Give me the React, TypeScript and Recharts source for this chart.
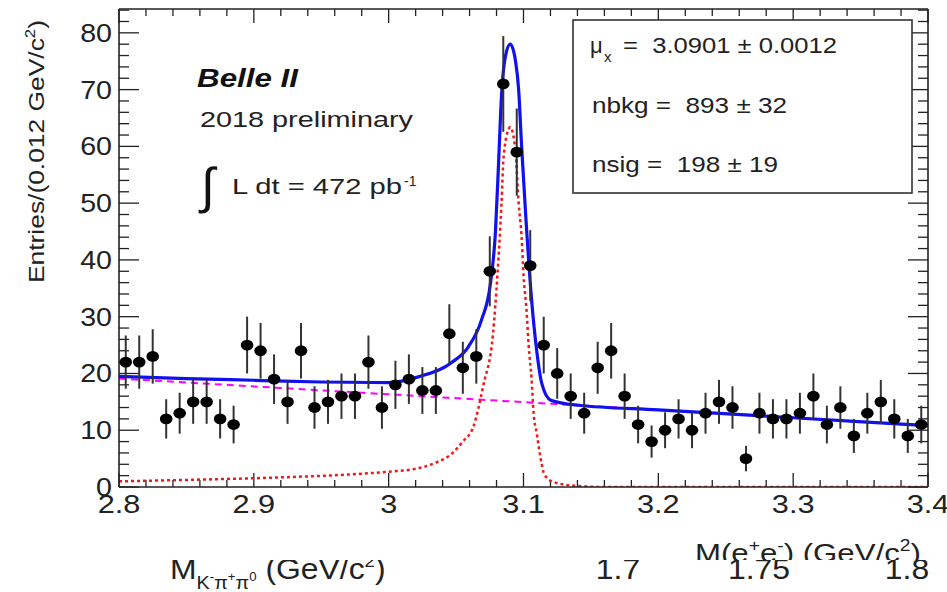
import React from "react";
import { ComposedChart, Line, Scatter, XAxis, YAxis, ErrorBar, ReferenceLine } from "recharts";

// histogram: M(e+e-) bins from 2.80 to 3.40
const binLow = 2.8;
const binWidth = 0.01;
const counts = [
  22, 22, 23, 12, 13, 15, 15, 12, 11, 25,
  24, 19, 15, 24, 14, 15, 16, 16, 22, 14,
  18, 19, 17, 17, 27, 21, 23, 38, 71, 59,
  39, 25, 20, 16, 13, 21, 24, 16, 11, 8,
  10, 12, 10, 13, 15, 14, 5, 13, 12, 12,
  13, 16, 11, 14, 9, 13, 15, 12, 9, 11,
];

// total fit (blue)
const totalX = [2.8, 2.85, 2.9, 2.95, 3.0, 3.022, 3.0465, 3.0591, 3.0688, 3.0755, 3.0792, 3.0815, 3.0837, 3.0867, 3.0902, 3.0941, 3.0964, 3.0986, 3.1016, 3.106, 3.1098, 3.1135, 3.1202, 3.141, 3.2, 3.3, 3.4];
const totalY = [19.5, 19.1, 18.8, 18.5, 18.4, 19.4, 21.9, 24.7, 29.4, 35.9, 45, 57, 69, 76, 78, 75, 70, 60, 48, 33, 24, 18.3, 15.3, 14.4, 13.6, 12.2, 10.8];

// signal component (red dashed)
const sigX = [2.8, 2.86, 2.92, 2.97, 3.0, 3.022, 3.035, 3.0465, 3.055, 3.0628, 3.0703, 3.0774, 3.0807, 3.0837, 3.0852, 3.0889, 3.0902, 3.0941, 3.0964, 3.0986, 3.1001, 3.1023, 3.1038, 3.106, 3.1075, 3.1098, 3.1135, 3.115, 3.1209, 3.1388, 3.16, 3.4];
const sigY = [1.0, 1.3, 1.7, 2.2, 2.7, 3.3, 4.3, 5.8, 8.0, 10.6, 18, 27, 37.5, 50, 58, 63, 63.4, 59, 50, 44, 37, 31, 25, 19, 13, 9.5, 4, 2.5, 1, 0.2, 0, 0];

// background component (magenta dashed)
const bkgX = [2.8, 3.4];
const bkgY = [19.1, 10.8];

const xMajor = [2.8, 2.9, 3.0, 3.1, 3.2, 3.3, 3.4];
const xMinor = [2.82, 2.84, 2.86, 2.88, 2.92, 2.94, 2.96, 2.98, 3.02, 3.04, 3.06, 3.08, 3.12, 3.14, 3.16, 3.18, 3.22, 3.24, 3.26, 3.28, 3.32, 3.34, 3.36, 3.38];
const yMajor = [0, 10, 20, 30, 40, 50, 60, 70, 80];
const yMinor = [2, 4, 6, 8, 12, 14, 16, 18, 22, 24, 26, 28, 32, 34, 36, 38, 42, 44, 46, 48, 52, 54, 56, 58, 62, 64, 66, 68, 72, 74, 76, 78, 82, 84];

const X0 = 2.8, X1 = 3.4, Y0 = 0, Y1 = 84.2;
const xDomain: [number, number] = [X0, X1];
const yDomain: [number, number] = [Y0, Y1];

// tick lengths in axis units (plot is 809 x 478 px)
const TX_MAJ = 14 * (Y1 - Y0) / 478;
const TX_MIN = 7 * (Y1 - Y0) / 478;
const TY_MAJ = 20 * (X1 - X0) / 809;
const TY_MIN = 10 * (X1 - X0) / 809;

const FONT = "'Liberation Sans', Arial, Helvetica, sans-serif";
const INK = "#222";

const points = counts.map((n, i) => ({
  x: binLow + binWidth * (i + 0.5),
  y: n,
  err: Math.sqrt(n),
}));
const toRows = (xs: number[], ys: number[]) => xs.map((x, i) => ({ x, y: ys[i] }));
const totalData = toRows(totalX, totalY);
const sigData = toRows(sigX, sigY);
const bkgData = toRows(bkgX, bkgY);

function XTick(props: any) {
  const { x, y, payload } = props;
  const label = String(Math.round(payload.value * 10) / 10);
  return (
    <text transform={`translate(${x},${y + 26}) scale(1.18,1)`} textAnchor="middle" fontSize={26} fill={INK} fontFamily={FONT}>
      {label}
    </text>
  );
}

function YTick(props: any) {
  const { y, payload } = props;
  return (
    <text transform={`translate(112,${y + 9}) scale(1.1,1)`} textAnchor="end" fontSize={26} fill={INK} fontFamily={FONT}>
      {payload.value}
    </text>
  );
}

const Dot = (p: any) => <ellipse cx={p.cx} cy={p.cy} rx={6.3} ry={5.4} fill="#000" />;

const frame = { stroke: INK, strokeWidth: 1.6 };

function seg(key: string, a: { x: number; y: number }, b: { x: number; y: number }) {
  return <ReferenceLine key={key} segment={[a, b]} stroke={INK} strokeWidth={1.3} ifOverflow="visible" />;
}

function Overlay() {
  return (
    <svg width={947} height={592} style={{ position: "absolute", left: 0, top: 0, pointerEvents: "none" }} fontFamily={FONT}>
      <defs>
        <clipPath id="upClip"><rect x={0} y={0} width={947} height={560} /></clipPath>
        <clipPath id="lowClip"><rect x={0} y={560} width={947} height={32} /></clipPath>
      </defs>

      <text transform="translate(44,20) rotate(-90) scale(1.2,1)" textAnchor="end" fontSize={22} fill={INK}>
        Entries/(0.012 GeV/c<tspan dy={-9} fontSize={14}>2</tspan><tspan dy={9}>)</tspan>
      </text>

      <text x={197} y={87} fontSize={25} fontWeight="bold" fontStyle="italic" fill="#111" textLength={101} lengthAdjust="spacingAndGlyphs">Belle II</text>
      <text x={200} y={127} fontSize={22} fill={INK} textLength={213} lengthAdjust="spacingAndGlyphs">2018 preliminary</text>
      <text x={201} y={203} fontSize={50} fill="#111">∫</text>
      <text x={232} y={194} fontSize={22} fill={INK} textLength={170} lengthAdjust="spacingAndGlyphs">L dt = 472 pb</text>
      <text x={404} y={186} fontSize={14} fill={INK}>-1</text>

      <rect x={573} y={20} width={339} height={173} fill="#fff" stroke="#333" strokeWidth={1.6} />
      <text x={590} y={53} fontSize={22} fill={INK}>μ</text>
      <text x={604} y={62} fontSize={15} fill={INK}>x</text>
      <text x={623} y={53} fontSize={22} fill={INK} textLength={214} lengthAdjust="spacingAndGlyphs" style={{ whiteSpace: "pre" }}>=  3.0901 ± 0.0012</text>
      <text x={592} y={113} fontSize={22} fill={INK} textLength={195} lengthAdjust="spacingAndGlyphs" style={{ whiteSpace: "pre" }}>nbkg =  893 ± 32</text>
      <text x={592} y={172} fontSize={22} fill={INK} textLength={186} lengthAdjust="spacingAndGlyphs" style={{ whiteSpace: "pre" }}>nsig =  198 ± 19</text>

      <g clipPath="url(#upClip)">
        <text transform="translate(695,562) scale(1.2,1)" fontSize={26} fill={INK}>
          M(e<tspan dy={-11} fontSize={16}>+</tspan><tspan dy={11}>e</tspan><tspan dy={-11} fontSize={16}>-</tspan><tspan dy={11}>) (GeV/c</tspan><tspan dy={-11} fontSize={16}>2</tspan><tspan dy={11}>)</tspan>
        </text>
      </g>

      <g clipPath="url(#lowClip)">
        <text transform="translate(170,579) scale(1.1,1)" fontSize={29} fill={INK}>
          M<tspan dy={10} fontSize={18}>K</tspan><tspan dy={-8} fontSize={12}>-</tspan><tspan dy={8} fontSize={18}>π</tspan><tspan dy={-8} fontSize={12}>+</tspan><tspan dy={8} fontSize={18}>π</tspan><tspan dy={-8} fontSize={12}>0</tspan><tspan dy={-2}> (GeV/c</tspan><tspan dy={-12} fontSize={17}>2</tspan><tspan dy={12}>)</tspan>
        </text>
        <text transform="translate(618,579) scale(1.1,1)" textAnchor="middle" fontSize={29} fill={INK}>1.7</text>
        <text transform="translate(759,579) scale(1.1,1)" textAnchor="middle" fontSize={29} fill={INK}>1.75</text>
        <text transform="translate(907,579) scale(1.1,1)" textAnchor="middle" fontSize={29} fill={INK}>1.8</text>
      </g>
    </svg>
  );
}

export default function App() {
  return (
    <div style={{ position: "fixed", left: 0, top: 0, width: 947, height: 592, background: "#fff" }}>
      <ComposedChart width={947} height={592} margin={{ top: 9, right: 19, bottom: 0, left: 0 }}>
        <XAxis dataKey="x" type="number" domain={xDomain} allowDataOverflow ticks={xMajor} interval={0}
          height={105} tickLine={false} tickSize={0} tickMargin={0} axisLine={frame} tick={(p: any) => <XTick {...p} />} />
        <YAxis type="number" domain={yDomain} allowDataOverflow ticks={yMajor} interval={0}
          width={119} tickLine={false} tickSize={0} tickMargin={0} axisLine={frame} tick={(p: any) => <YTick {...p} />} />

        {/* top and right frame */}
        <ReferenceLine y={Y1} stroke={INK} strokeWidth={1.6} ifOverflow="visible" />
        <ReferenceLine x={X1} stroke={INK} strokeWidth={1.6} ifOverflow="visible" />

        {/* inward ticks on all four sides */}
        {xMajor.map((v) => seg("bM" + v, { x: v, y: Y0 }, { x: v, y: Y0 + TX_MAJ }))}
        {xMinor.map((v) => seg("bm" + v, { x: v, y: Y0 }, { x: v, y: Y0 + TX_MIN }))}
        {xMajor.map((v) => seg("tM" + v, { x: v, y: Y1 }, { x: v, y: Y1 - TX_MAJ }))}
        {xMinor.map((v) => seg("tm" + v, { x: v, y: Y1 }, { x: v, y: Y1 - TX_MIN }))}
        {yMajor.map((v) => seg("lM" + v, { x: X0, y: v }, { x: X0 + TY_MAJ, y: v }))}
        {yMinor.map((v) => seg("lm" + v, { x: X0, y: v }, { x: X0 + TY_MIN, y: v }))}
        {yMajor.map((v) => seg("rM" + v, { x: X1, y: v }, { x: X1 - TY_MAJ, y: v }))}
        {yMinor.map((v) => seg("rm" + v, { x: X1, y: v }, { x: X1 - TY_MIN, y: v }))}

        <Line data={bkgData} dataKey="y" type="linear" stroke="#ff00ff" strokeWidth={2} strokeDasharray="7 5"
          dot={false} activeDot={false} isAnimationActive={false} />
        <Line data={sigData} dataKey="y" type="monotone" stroke="#f01818" strokeWidth={2.5} strokeDasharray="3 3"
          dot={false} activeDot={false} isAnimationActive={false} />
        <Line data={totalData} dataKey="y" type="monotone" stroke="#1010f0" strokeWidth={3.2}
          dot={false} activeDot={false} isAnimationActive={false} />
        <Scatter data={points} dataKey="y" fill="#000" shape={Dot} isAnimationActive={false}>
          <ErrorBar dataKey="err" direction="y" width={0} stroke="#333" strokeWidth={2} />
        </Scatter>
      </ComposedChart>
      <Overlay />
    </div>
  );
}
